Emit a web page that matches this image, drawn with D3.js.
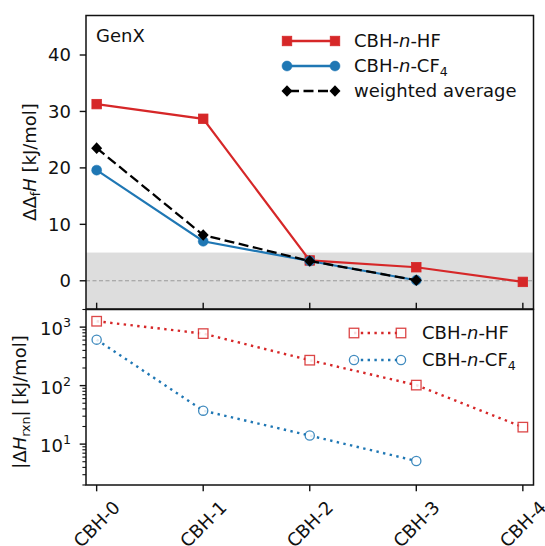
<!DOCTYPE html>
<html><head><meta charset="utf-8">
<script src="https://cdn.jsdelivr.net/npm/d3@7"></script>
<style>
html,body{margin:0;padding:0;background:#fff;}
text{font-family:"DejaVu Sans",sans-serif;fill:#111;}
</style></head>
<body>
<svg id="c" width="545" height="546"></svg>
<script>
const categories = ["CBH-0","CBH-1","CBH-2","CBH-3","CBH-4"];
// top panel: ΔΔfH [kJ/mol]
const hfErr = [31.3, 28.7, 3.6, 2.4, -0.2];
const cf4Err = [19.6, 7.0, 3.5, 0.1];
const wavgErr = [23.5, 8.1, 3.5, 0.1];
// bottom panel: |ΔH_rxn| [kJ/mol]
const hfRxn = [1260, 775, 272, 102, 19.5];
const cf4Rxn = [611, 37.3, 14.0, 5.15];
const topTicks = [0, 10, 20, 30, 40];
const botTicks = [10, 100, 1000];
const botExp = ["1", "2", "3"];

const RED = "#d62728", BLUE = "#1f77b4";
const svg = d3.select("#c");
const L = 86, R = 533.5, T1 = 15.5, B1 = 309, T2 = 309.5, B2 = 485;
const x = d3.scaleLinear().domain([-0.1, 4.1]).range([L, R]);
const yT = d3.scaleLinear().domain([-5, 47]).range([B1, T1]);
const yB = d3.scaleLog().domain([2, 2000]).range([B2, T2]);
const FS = 18;

// ---------- top panel ----------
const gT = svg.append("g");
gT.append("rect").attr("x", L).attr("y", yT(5)).attr("width", R - L).attr("height", yT(-5) - yT(5)).attr("fill", "#dddddd");
gT.append("line").attr("x1", L).attr("x2", R).attr("y1", yT(0)).attr("y2", yT(0))
  .attr("stroke", "#999").attr("stroke-width", 1).attr("stroke-dasharray", "4,2.5");

function sq(g, cx, cy, s, fill, stroke, sw, op) {
  g.append("rect").attr("x", cx - s/2).attr("y", cy - s/2).attr("width", s).attr("height", s)
    .attr("fill", fill).attr("stroke", stroke).attr("stroke-width", sw).attr("opacity", op||1);
}
function circ(g, cx, cy, r, fill, stroke, sw, op) {
  g.append("circle").attr("cx", cx).attr("cy", cy).attr("r", r)
    .attr("fill", fill).attr("stroke", stroke).attr("stroke-width", sw).attr("opacity", op||1);
}
function dia(g, cx, cy, h, fill) {
  g.append("path").attr("d", `M${cx},${cy-h}L${cx+h*0.95},${cy}L${cx},${cy+h}L${cx-h*0.95},${cy}Z`).attr("fill", fill);
}
const lineT = d3.line().x((d,i)=>x(i)).y(d=>yT(d));
gT.append("path").attr("d", lineT(hfErr)).attr("fill","none").attr("stroke",RED).attr("stroke-width",2.2);
hfErr.forEach((d,i)=>sq(gT, x(i), yT(d), 9.5, RED, RED, 0.8));
gT.append("path").attr("d", lineT(cf4Err)).attr("fill","none").attr("stroke",BLUE).attr("stroke-width",2.2);
cf4Err.forEach((d,i)=>circ(gT, x(i), yT(d), 5, BLUE, BLUE, 0.5));
gT.append("path").attr("d", lineT(wavgErr)).attr("fill","none").attr("stroke","#000").attr("stroke-width",2.3).attr("stroke-dasharray","10,4.5");
wavgErr.forEach((d,i)=>dia(gT, x(i), yT(d), 5.8, "#000"));

// axes top
gT.append("rect").attr("x", L).attr("y", T1).attr("width", R-L).attr("height", B1-T1).attr("fill","none").attr("stroke","#111").attr("stroke-width",1.5);
topTicks.forEach(t=>{
  gT.append("line").attr("x1", L-6.3).attr("x2", L).attr("y1", yT(t)).attr("y2", yT(t)).attr("stroke","#111").attr("stroke-width",1.4);
  gT.append("text").attr("x", L-15).attr("y", yT(t)).attr("dy","0.36em").attr("text-anchor","end").attr("font-size",FS).text(t);
});
categories.forEach((c,i)=>{
  gT.append("line").attr("x1", x(i)).attr("x2", x(i)).attr("y1", B1-6.3).attr("y2", B1).attr("stroke","#111").attr("stroke-width",1.4);
});
gT.append("text").attr("x", 96).attr("y", 42).attr("font-size",FS).text("GenX");
{
  const t = gT.append("text").attr("transform","translate(36,162) rotate(-90)").attr("text-anchor","middle").attr("font-size",FS);
  t.append("tspan").text("ΔΔ");
  t.append("tspan").attr("font-size",FS*0.7).attr("dy",4).text("f");
  t.append("tspan").attr("font-style","italic").attr("dy",-4).text("H");
  t.append("tspan").text(" [kJ/mol]");
}
// top legend
const legT = [
  {lab:["CBH-",["n","i"],"-HF"], col:RED, kind:"sq"},
  {lab:["CBH-",["n","i"],"-CF",["4","s"]], col:BLUE, kind:"ci"},
  {lab:["weighted average"], col:"#000", kind:"di"}
];
legT.forEach((e,k)=>{
  const yy = 41 + k*25, x1 = 287, x2 = 335;
  const ln = gT.append("line").attr("x1",x1).attr("x2",x2).attr("y1",yy).attr("y2",yy).attr("stroke",e.col).attr("stroke-width",2.3);
  if (e.kind==="di") ln.attr("stroke-dasharray","10,4.5").attr("x1",x1+2).attr("x2",x2-2);
  [x1,x2].forEach(px=>{
    if (e.kind==="sq") sq(gT, px, yy, 9.5, e.col, e.col, 0.8);
    else if (e.kind==="ci") circ(gT, px, yy, 5, e.col, e.col, 0.5);
    else dia(gT, px, yy, 5.8, "#000");
  });
  const t = gT.append("text").attr("x", 354).attr("y", yy).attr("dy","0.36em").attr("font-size",FS);
  e.lab.forEach(p=>{
    if (typeof p === "string") t.append("tspan").text(p);
    else if (p[1]==="i") t.append("tspan").attr("font-style","italic").text(p[0]);
    else t.append("tspan").attr("font-size",FS*0.7).attr("dy",4).text(p[0]);
  });
});

// ---------- bottom panel ----------
const gB = svg.append("g");
gB.append("rect").attr("x", L).attr("y", T2).attr("width", R-L).attr("height", B2-T2).attr("fill","#fff");
const lineB = d3.line().x((d,i)=>x(i)).y(d=>yB(d));
gB.append("path").attr("d", lineB(hfRxn)).attr("fill","none").attr("stroke",RED).attr("stroke-width",2.4).attr("stroke-dasharray","2.4,4.4");
hfRxn.forEach((d,i)=>sq(gB, x(i), yB(d), 9.5, "#fff", RED, 1.3, 0.85));
gB.append("path").attr("d", lineB(cf4Rxn)).attr("fill","none").attr("stroke",BLUE).attr("stroke-width",2.4).attr("stroke-dasharray","2.4,4.4");
cf4Rxn.forEach((d,i)=>circ(gB, x(i), yB(d), 4.6, "#fff", BLUE, 1.3, 0.85));

gB.append("rect").attr("x", L).attr("y", T2).attr("width", R-L).attr("height", B2-T2).attr("fill","none").attr("stroke","#111").attr("stroke-width",1.5);
// log minor ticks
const minor = [];
[1,10,100,1000].forEach(b=>{ for (let m=2;m<=9;m++){ const v=b*m; if (v>=2 && v<=2000 && v!==10 && v!==100 && v!==1000) minor.push(v);} });
minor.forEach(v=>{
  gB.append("line").attr("x1", L-3.6).attr("x2", L).attr("y1", yB(v)).attr("y2", yB(v)).attr("stroke","#111").attr("stroke-width",1.1);
});
botTicks.forEach((v,k)=>{
  gB.append("line").attr("x1", L-6.3).attr("x2", L).attr("y1", yB(v)).attr("y2", yB(v)).attr("stroke","#111").attr("stroke-width",1.4);
  const t = gB.append("text").attr("x", L-15).attr("y", yB(v)).attr("dy","0.45em").attr("text-anchor","end").attr("font-size",FS);
  t.append("tspan").text("10");
  t.append("tspan").attr("font-size",FS*0.7).attr("dy",-8).text(botExp[k]);
});
categories.forEach((c,i)=>{
  gB.append("line").attr("x1", x(i)).attr("x2", x(i)).attr("y1", B2).attr("y2", B2+6.3).attr("stroke","#111").attr("stroke-width",1.4);
  gB.append("text").attr("transform",`translate(${x(i)},524) rotate(-45)`).attr("text-anchor","middle").attr("dy","0.36em").attr("font-size",FS).text(c);
});
{
  const t = gB.append("text").attr("transform","translate(26,402) rotate(-90)").attr("text-anchor","middle").attr("font-size",FS);
  t.append("tspan").text("|Δ");
  t.append("tspan").attr("font-style","italic").text("H");
  t.append("tspan").attr("font-size",FS*0.7).attr("dy",4).text("rxn");
  t.append("tspan").attr("dy",-4).text("| [kJ/mol]");
}
// bottom legend
const legB = [
  {lab:["CBH-",["n","i"],"-HF"], col:RED, kind:"sq"},
  {lab:["CBH-",["n","i"],"-CF",["4","s"]], col:BLUE, kind:"ci"}
];
legB.forEach((e,k)=>{
  const yy = 333 + k*27, x1 = 354, x2 = 401;
  gB.append("line").attr("x1",x1).attr("x2",x2).attr("y1",yy).attr("y2",yy).attr("stroke",e.col).attr("stroke-width",2.4).attr("stroke-dasharray","2.4,4.4");
  [x1,x2].forEach(px=>{
    if (e.kind==="sq") sq(gB, px, yy, 9.5, "#fff", e.col, 1.3, 0.85);
    else circ(gB, px, yy, 4.6, "#fff", e.col, 1.3, 0.85);
  });
  const t = gB.append("text").attr("x", 422).attr("y", yy).attr("dy","0.36em").attr("font-size",FS);
  e.lab.forEach(p=>{
    if (typeof p === "string") t.append("tspan").text(p);
    else if (p[1]==="i") t.append("tspan").attr("font-style","italic").text(p[0]);
    else t.append("tspan").attr("font-size",FS*0.7).attr("dy",4).text(p[0]);
  });
});
</script>
</body></html>
